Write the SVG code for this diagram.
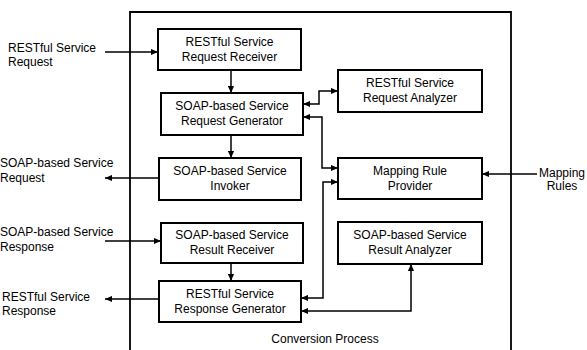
<svg xmlns="http://www.w3.org/2000/svg" width="587" height="350" viewBox="0 0 587 350">
<defs>
<marker id="ah" viewBox="0 0 8 8" refX="8" refY="4" markerWidth="7" markerHeight="7" markerUnits="userSpaceOnUse" orient="auto-start-reverse">
<path d="M0,0.5 L8,4 L0,7.5 z" fill="#000"/>
</marker>
<style>
.box{fill:#fff;stroke:#000;stroke-width:2}
.t{font-family:"Liberation Sans",Arial,sans-serif;font-size:12px;fill:#000}
.c{text-anchor:middle}
.ln{fill:none;stroke:#000;stroke-width:1.5}
</style>
</defs>
<rect width="587" height="350" fill="#fff"/>
<g id="container">
<path d="M130,352 V12 H511 V352" fill="none" stroke="#000" stroke-width="1.8"/>
<text class="t c" x="325" y="343">Conversion Process</text>
</g>
<g id="connectors">
<path class="ln" d="M105,52 H158" marker-end="url(#ah)"/>
<path class="ln" d="M231,70 V93" marker-end="url(#ah)"/>
<path class="ln" d="M231,135 V158" marker-end="url(#ah)"/>
<path class="ln" d="M159,178 H105" marker-end="url(#ah)"/>
<path class="ln" d="M105,241 H161" marker-end="url(#ah)"/>
<path class="ln" d="M231,263 V281" marker-end="url(#ah)"/>
<path class="ln" d="M159,299 H105" marker-end="url(#ah)"/>
<path class="ln" d="M303,104 H319 V91 H338" marker-start="url(#ah)" marker-end="url(#ah)"/>
<path class="ln" d="M303,117 H322 V168 H338" marker-start="url(#ah)" marker-end="url(#ah)"/>
<path class="ln" d="M301,298 H323 V182 H338" marker-start="url(#ah)" marker-end="url(#ah)"/>
<path class="ln" d="M301,311 H411 V264" marker-start="url(#ah)" marker-end="url(#ah)"/>
<path class="ln" d="M537,174 H482" marker-end="url(#ah)"/>
</g>
<g id="label-rest-request"><text class="t" x="8" y="52">RESTful Service</text><text class="t" x="8" y="66">Request</text></g>
<g id="label-soap-request"><text class="t" x="0" y="167">SOAP-based Service</text><text class="t" x="0" y="182">Request</text></g>
<g id="label-soap-response"><text class="t" x="0" y="236">SOAP-based Service</text><text class="t" x="0" y="251">Response</text></g>
<g id="label-rest-response"><text class="t" x="2" y="301">RESTful Service</text><text class="t" x="2" y="315">Response</text></g>
<g id="label-mapping-rules"><text class="t c" x="562" y="177">Mapping</text><text class="t c" x="562" y="190">Rules</text></g>
<g id="n1"><rect class="box" x="158" y="29" width="143" height="41"/><text class="t c" x="229.5" y="46">RESTful Service</text><text class="t c" x="229.5" y="61">Request Receiver</text></g>
<g id="n2"><rect class="box" x="161" y="93" width="142" height="42"/><text class="t c" x="232" y="110">SOAP-based Service</text><text class="t c" x="232" y="125">Request Generator</text></g>
<g id="n3"><rect class="box" x="159" y="158" width="142" height="42"/><text class="t c" x="230" y="175">SOAP-based Service</text><text class="t c" x="230" y="190">Invoker</text></g>
<g id="n4"><rect class="box" x="161" y="223" width="142" height="40"/><text class="t c" x="232" y="239">SOAP-based Service</text><text class="t c" x="232" y="254">Result Receiver</text></g>
<g id="n5"><rect class="box" x="159" y="281" width="142" height="41"/><text class="t c" x="230" y="298">RESTful Service</text><text class="t c" x="230" y="313">Response Generator</text></g>
<g id="n6"><rect class="box" x="338" y="70" width="144" height="42"/><text class="t c" x="410" y="87">RESTful Service</text><text class="t c" x="410" y="102">Request Analyzer</text></g>
<g id="n7"><rect class="box" x="338" y="158" width="144" height="41"/><text class="t c" x="410" y="175">Mapping Rule</text><text class="t c" x="410" y="190">Provider</text></g>
<g id="n8"><rect class="box" x="338" y="222" width="144" height="42"/><text class="t c" x="410" y="239">SOAP-based Service</text><text class="t c" x="410" y="254">Result Analyzer</text></g>
</svg>
